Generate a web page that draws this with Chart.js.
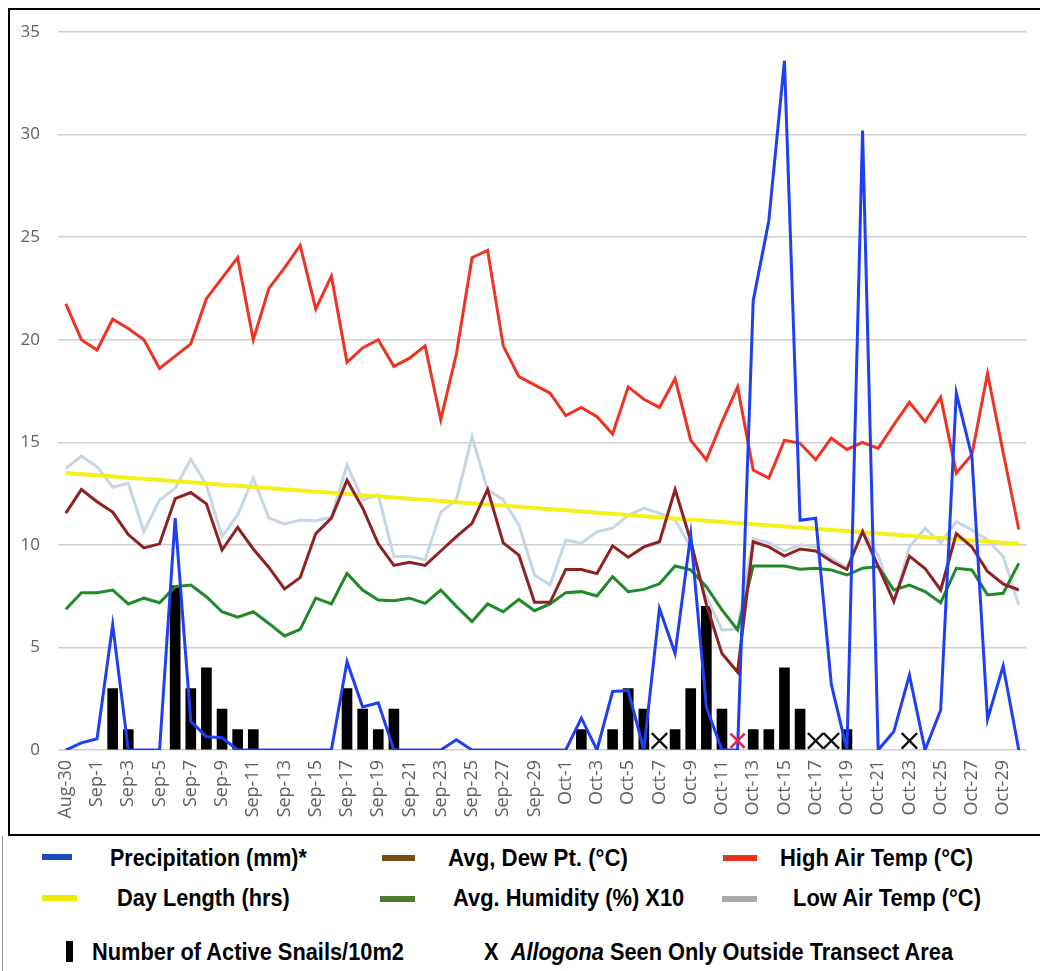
<!DOCTYPE html>
<html>
<head>
<meta charset="utf-8">
<script src="https://cdn.jsdelivr.net/npm/chart.js@4.4.1/dist/chart.umd.min.js"></script>
<style>
html,body{margin:0;padding:0;background:#fff;}
#wrap{position:relative;width:1040px;height:971px;overflow:hidden;background:#fff;}
#cv{position:absolute;left:0;top:0;width:1040px;height:840px;}
.ln{position:absolute;background:#000;}
.lg{position:absolute;font-family:'Liberation Sans',Arial,sans-serif;font-weight:bold;font-size:23px;color:#000;white-space:nowrap;transform-origin:0 50%;line-height:1;}
.mk{position:absolute;}
</style>
</head>
<body>
<div id="wrap">
<canvas id="cv" width="1040" height="840"></canvas>
<div class="ln" style="left:8px;top:8px;width:1032px;height:2px;"></div>
<div class="ln" style="left:8px;top:8px;width:2px;height:828px;"></div>
<div class="ln" style="left:8px;top:834px;width:1032px;height:2px;"></div>
<div class="ln" style="left:2px;top:836px;width:1px;height:135px;background:#999;"></div>

<div class="mk" style="left:42px;top:854px;width:30px;height:6px;background:#1c4bb4;"></div>
<div class="lg" style="left:110px;top:858px;" data-w="197">Precipitation (mm)*</div>
<div class="mk" style="left:382px;top:855px;width:33px;height:6px;background:#7b4a12;"></div>
<div class="lg" style="left:448px;top:858px;" data-w="180">Avg, Dew Pt. (°C)</div>
<div class="mk" style="left:723px;top:855px;width:34px;height:6px;background:#e8321c;"></div>
<div class="lg" style="left:780px;top:858px;" data-w="193">High Air Temp (°C)</div>

<div class="mk" style="left:42px;top:895px;width:35px;height:6px;background:#f0ea00;"></div>
<div class="lg" style="left:117px;top:898px;" data-w="173">Day Length (hrs)</div>
<div class="mk" style="left:380px;top:896px;width:35px;height:6px;background:#4d7a2c;"></div>
<div class="lg" style="left:453px;top:898px;" data-w="231">Avg. Humidity (%) X10</div>
<div class="mk" style="left:722px;top:896px;width:35px;height:6px;background:#aaaaaa;"></div>
<div class="lg" style="left:793px;top:898px;" data-w="188">Low Air Temp (°C)</div>

<div class="mk" style="left:66px;top:941px;width:7px;height:21px;background:#000;"></div>
<div class="lg" style="left:92px;top:952px;" data-w="312">Number of Active Snails/10m2</div>
<div class="lg" style="left:484px;top:952px;" data-w="469">X&nbsp; <i>Allogona</i> Seen Only Outside Transect Area</div>
</div>

<script>
const dates = ['Aug-30','Aug-31','Sep-1','Sep-2','Sep-3','Sep-4','Sep-5','Sep-6','Sep-7','Sep-8','Sep-9','Sep-10',
  'Sep-11','Sep-12','Sep-13','Sep-14','Sep-15','Sep-16','Sep-17','Sep-18','Sep-19','Sep-20','Sep-21','Sep-22',
  'Sep-23','Sep-24','Sep-25','Sep-26','Sep-27','Sep-28','Sep-29','Sep-30','Oct-1','Oct-2','Oct-3','Oct-4',
  'Oct-5','Oct-6','Oct-7','Oct-8','Oct-9','Oct-10','Oct-11','Oct-12','Oct-13','Oct-14','Oct-15','Oct-16',
  'Oct-17','Oct-18','Oct-19','Oct-20','Oct-21','Oct-22','Oct-23','Oct-24','Oct-25','Oct-26','Oct-27','Oct-28',
  'Oct-29','Oct-30'];

const yTicks = [0,5,10,15,20,25,30,35];

const precip = [0,0.35,0.55,6.1,0,0,0,11.3,1.4,0.65,0.6,0,
  0,0,0,0,0,0,4.3,2.1,2.3,0,0,0,
  0,0.5,0,0,0,0,0,0,0,1.55,0,2.85,
  2.9,0,6.9,4.7,10.5,2.1,0,0,21.9,25.8,33.6,11.2,
  11.3,3.2,0,30.2,0,0.9,3.65,0,1.95,17.4,14.3,1.5,
  4.1,0];

const highTemp = [21.75,20.0,19.5,21.0,20.55,20.0,18.6,19.2,19.8,22.0,23.0,24.0,
  20.0,22.5,23.5,24.6,21.5,23.1,18.9,19.6,20.0,18.7,19.1,19.7,
  16.1,19.3,24.0,24.35,19.7,18.2,17.8,17.4,16.3,16.7,16.25,15.4,
  17.7,17.1,16.7,18.1,15.1,14.15,16.0,17.7,13.65,13.25,15.1,14.95,
  14.15,15.2,14.65,15.0,14.7,15.85,16.95,16.0,17.2,13.5,14.4,18.35,
  14.5,10.75];

const dewPoint = [11.55,12.7,12.1,11.6,10.5,9.85,10.05,12.25,12.55,12.0,9.75,10.85,
  9.8,8.9,7.85,8.4,10.55,11.3,13.15,11.8,10.05,9.0,9.15,9.0,
  9.7,10.4,11.05,12.7,10.1,9.5,7.2,7.2,8.8,8.8,8.6,9.95,
  9.4,9.9,10.15,12.7,10.2,7.1,4.7,3.8,10.15,9.9,9.45,9.8,
  9.7,9.2,8.8,10.65,8.95,7.25,9.45,8.85,7.8,10.55,9.9,8.7,
  8.1,7.8];

const humidityX10 = [6.86,7.67,7.67,7.8,7.12,7.4,7.18,7.96,8.04,7.47,6.74,6.47,
  6.74,6.17,5.56,5.88,7.4,7.12,8.61,7.8,7.31,7.28,7.4,7.15,
  7.8,7.0,6.26,7.12,6.74,7.34,6.79,7.12,7.67,7.72,7.51,8.45,
  7.72,7.83,8.1,8.97,8.78,7.96,6.83,5.85,8.97,8.97,8.97,8.81,
  8.86,8.78,8.53,8.86,8.94,7.8,8.04,7.72,7.18,8.86,8.78,7.56,
  7.64,9.1];

const lowTemp = [13.73,14.33,13.81,12.81,13.0,10.64,12.19,12.76,14.17,12.92,10.4,11.46,
  13.25,11.3,11.02,11.21,11.18,11.35,13.9,12.19,12.43,9.43,9.43,9.28,
  11.6,12.19,15.28,12.68,12.19,10.97,8.53,8.04,10.24,10.08,10.64,10.81,
  11.45,11.78,11.54,11.21,9.9,7.47,5.85,5.9,10.3,10.1,9.7,10.0,
  9.9,9.35,8.9,10.7,9.5,7.2,9.9,10.8,10.1,11.13,10.73,10.24,
  9.43,7.07];

const dayLength = [13.50,13.44,13.39,13.33,13.27,13.22,13.16,13.10,13.05,12.99,12.93,12.88,
  12.82,12.76,12.71,12.65,12.59,12.54,12.48,12.42,12.37,12.31,12.25,12.20,
  12.14,12.08,12.03,11.97,11.91,11.86,11.80,11.74,11.69,11.63,11.57,11.52,
  11.46,11.40,11.35,11.29,11.23,11.18,11.12,11.06,11.01,10.95,10.89,10.84,
  10.78,10.72,10.67,10.61,10.55,10.50,10.44,10.38,10.33,10.27,10.21,10.16,
  10.10,10.05];

const N = null;
const activeSnails = [N,N,N,3,1,N,N,8,3,4,2,1,
  1,N,N,N,N,N,3,2,1,2,N,N,
  N,N,N,N,N,N,N,N,N,1,N,1,
  3,2,N,1,3,7,2,N,1,1,4,2,
  N,N,1,N,N,N,N,N,N,N,N,N,
  N,N];

// "X" marks: Allogona seen only outside transect area (plotted just above 0)
const allogonaOutside = [N,N,N,N,N,N,N,N,N,N,N,N,
  N,N,N,N,N,N,N,N,N,N,N,N,
  N,N,N,N,N,N,N,N,N,N,N,N,
  N,N,0.45,N,N,N,N,N,N,N,N,N,
  0.45,0.45,N,N,N,N,0.45,N,N,N,N,N,
  N,N];
const allogonaOutsideRed = [N,N,N,N,N,N,N,N,N,N,N,N,
  N,N,N,N,N,N,N,N,N,N,N,N,
  N,N,N,N,N,N,N,N,N,N,N,N,
  N,N,N,N,N,N,N,0.45,N,N,N,N,
  N,N,N,N,N,N,N,N,N,N,N,N,
  N,N];

const yFont = {family:"'Open Sans', sans-serif", size:17};
const xFont = {family:"'Open Sans', sans-serif", size:18};
const lineBase = {type:'line', pointRadius:0, pointHoverRadius:0, tension:0, fill:false};

new Chart(document.getElementById('cv'), {
  type:'bar',
  data:{
    labels:dates,
    datasets:[
      {label:'X Allogona', type:'line', data:allogonaOutside, showLine:false, pointStyle:'crossRot', pointRadius:11, borderColor:'#111', pointBorderWidth:2.4, order:-2},
      {label:'X Allogona red', type:'line', data:allogonaOutsideRed, showLine:false, pointStyle:'crossRot', pointRadius:10, borderColor:'#e8204a', pointBorderWidth:2.6, order:-2},
      Object.assign({label:'Precipitation (mm)*', data:precip, borderColor:'#1f3ff2', borderWidth:3, order:0}, lineBase),
      Object.assign({label:'Avg, Dew Pt. (°C)', data:dewPoint, borderColor:'#8e2222', borderWidth:3, order:1}, lineBase),
      Object.assign({label:'Avg. Humidity (%) X10', data:humidityX10, borderColor:'#1f8a28', borderWidth:3, order:2}, lineBase),
      Object.assign({label:'High Air Temp (°C)', data:highTemp, borderColor:'#ee3322', borderWidth:3, order:3}, lineBase),
      Object.assign({label:'Day Length (hrs)', data:dayLength, borderColor:'#f4f01c', borderWidth:4, order:4}, lineBase),
      Object.assign({label:'Low Air Temp (°C)', data:lowTemp, borderColor:'#c6d6e6', borderWidth:3, order:5}, lineBase),
      {label:'Number of Active Snails/10m2', type:'bar', data:activeSnails, backgroundColor:'#000', barThickness:10, order:10}
    ]
  },
  options:{
    responsive:false, animation:false, devicePixelRatio:1,
    plugins:{legend:{display:false}, tooltip:{enabled:false}},
    layout:{padding:{left:10,right:11,top:32,bottom:10}},
    scales:{
      x:{
        offset:true,
        grid:{display:false, drawTicks:false},
        border:{display:false},
        ticks:{autoSkip:false, minRotation:90, maxRotation:90, padding:10, color:'#606060', font:xFont,
          callback:function(v,i){ return i%2===0 ? dates[i] : ''; }},
        afterFit:function(s){ s.height = 80; s.paddingLeft = 0; s.paddingRight = 0; }
      },
      y:{
        min:0, max:35,
        afterBuildTicks:function(s){ s.ticks = yTicks.map(v=>({value:v})); },
        ticks:{padding:18, color:'#606060', font:yFont},
        grid:{color:'#cfcfcf', lineWidth:1.5, drawTicks:false},
        border:{display:false},
        afterFit:function(s){ s.width = 48; s.paddingTop = 0; s.paddingBottom = 0; }
      }
    }
  }
});

function fitLegend(){
  document.querySelectorAll('.lg').forEach(function(el){
    const w = parseFloat(el.dataset.w);
    const nat = el.offsetWidth;
    el.style.transform = 'translateY(-50%) scaleX(' + (w/nat) + ')';
  });
}
fitLegend();
if (document.fonts && document.fonts.ready) document.fonts.ready.then(fitLegend);
</script>
</body>
</html>
